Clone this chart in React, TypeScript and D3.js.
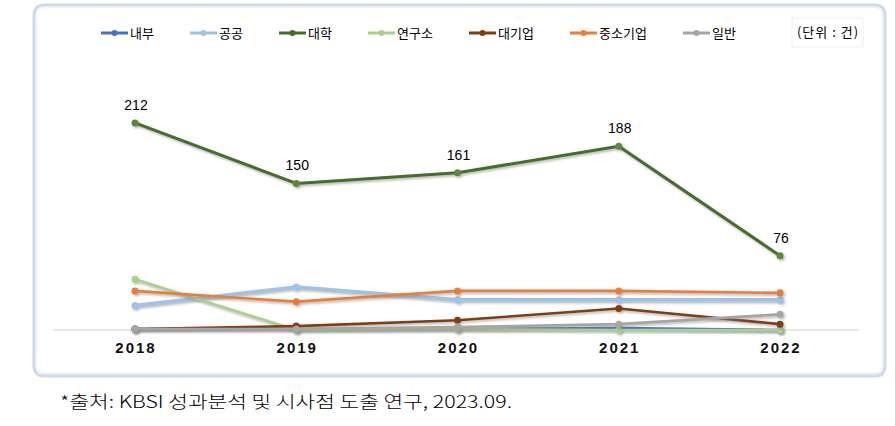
import React from "react";
import * as d3 from "d3";

const years = ["2018", "2019", "2020", "2021", "2022"];
const seriesNames = ["내부", "공공", "대학", "연구소", "대기업", "중소기업", "일반"];
const seriesColors = ["#4472C4", "#9DC3E6", "#456E27", "#A9D18E", "#843C0C", "#ED7D31", "#A5A5A5"];
const 내부 = [1, 1, 1, 2, 0];
const 공공 = [25, 44, 31, 31, 31];
const 대학 = [212, 150, 161, 188, 76];
const 연구소 = [52, 0, 1, 0, 0];
const 대기업 = [1, 4, 10, 22, 6];
const 중소기업 = [40, 29, 40, 40, 38];
const 일반 = [1, 1, 3, 6, 16];
const seriesValues = [내부, 공공, 대학, 연구소, 대기업, 중소기업, 일반];
const labeledSeries = "대학";
const unitText = "(단위 : 건)";
const sourceText = "*출처: KBSI 성과분석 및 시사점 도출 연구, 2023.09.";

const W = 895;
const H = 426;
const FONT = "'Noto Sans CJK KR', 'Noto Sans', sans-serif";
const NUMFONT = "'Liberation Sans', Arial, sans-serif";

export default function App() {
  const x = d3.scalePoint<string>().domain(years).range([135, 780]);
  const y = d3.scaleLinear().domain([0, 250]).range([330, 85.75]);
  const line = d3
    .line<number>()
    .x((_, i) => x(years[i]) as number)
    .y((d) => y(d));

  const legendItems: { name: string; color: string; lx: number }[] = [];
  let cx = 101;
  seriesNames.forEach((n, i) => {
    legendItems.push({ name: n, color: seriesColors[i], lx: cx });
    cx += 27 + 2 + n.length * 12 + 36;
  });

  return (
    <div style={{ position: "absolute", left: 0, top: 0 }}>
      <svg width={W} height={H} viewBox={`0 0 ${W} ${H}`} style={{ display: "block", background: "#fff" }}>
        <defs>
          <filter id="sh" x="-5%" y="-20%" width="110%" height="140%">
            <feDropShadow dx="1.5" dy="1.8" stdDeviation="1" floodColor="#7f7f7f" floodOpacity="0.55" />
          </filter>
        </defs>
        {/* frame */}
        <rect x={34} y={5} width={851} height={371} rx={9} fill="#fff" stroke="#cdd9e9" strokeWidth={3} />
        <rect x={36.5} y={7.5} width={846} height={366} rx={7} fill="none" stroke="#eef2f8" strokeWidth={1.5} />
        <line x1={36} y1={375} x2={883} y2={375} stroke="#d5dfee" strokeWidth={3} strokeDasharray="1 1" />

        {/* legend */}
        {legendItems.map((it) => (
          <g key={it.name}>
            <line x1={it.lx} y1={33} x2={it.lx + 27} y2={33} stroke={it.color} strokeWidth={3} />
            <circle cx={it.lx + 13.5} cy={33} r={3} fill={it.color} />
            <text x={it.lx + 29} y={37.5} fontFamily={FONT} fontSize={13} fill="#000">
              {it.name}
            </text>
          </g>
        ))}
        <rect x={792} y={18} width={71} height={29} fill="#fff" stroke="#f0f0f0" strokeWidth={1} />
        <text
          x={828}
          y={37}
          textAnchor="middle"
          fontFamily={FONT}
          fontSize={13}
          letterSpacing={1}
          style={{ whiteSpace: "pre" }}
          fill="#000"
        >
          {unitText}
        </text>

        {/* axis */}
        <line x1={53} y1={330} x2={859} y2={330} stroke="#d0d0d0" strokeWidth={1} />
        {years.map((yr) => (
          <text
            key={yr}
            x={(x(yr) as number) + 1}
            y={353}
            textAnchor="middle"
            fontFamily={NUMFONT}
            fontWeight="bold"
            fontSize={15}
            letterSpacing={2}
            fill="#111"
          >
            {yr}
          </text>
        ))}

        {/* series */}
        {seriesNames.map((n, si) => (
          <g key={n} filter="url(#sh)">
            <path
              d={line(seriesValues[si]) || ""}
              fill="none"
              stroke={seriesColors[si]}
              strokeWidth={n === "공공" ? 3.5 : n === "대학" ? 3 : 2.6}
              strokeLinejoin="round"
            />
            {seriesValues[si].map((v, i) => (
              <circle key={i} cx={x(years[i]) as number} cy={y(v)} r={3.5} fill={n === "대학" ? "#5C8A3A" : seriesColors[si]} />
            ))}
          </g>
        ))}

        {/* data labels */}
        {seriesValues[seriesNames.indexOf(labeledSeries)].map((v, i) => (
          <text
            key={i}
            x={(x(years[i]) as number) + 1}
            y={y(v) - 13}
            textAnchor="middle"
            fontFamily={NUMFONT}
            fontSize={14}
            fill="#000"
          >
            {v}
          </text>
        ))}

        {/* source */}
        <text
          x={60}
          y={408}
          fontFamily={FONT}
          fontSize={17}
          fontWeight={300}
          textLength={452}
          lengthAdjust="spacingAndGlyphs"
          fill="#000"
        >
          {sourceText}
        </text>
      </svg>
    </div>
  );
}
